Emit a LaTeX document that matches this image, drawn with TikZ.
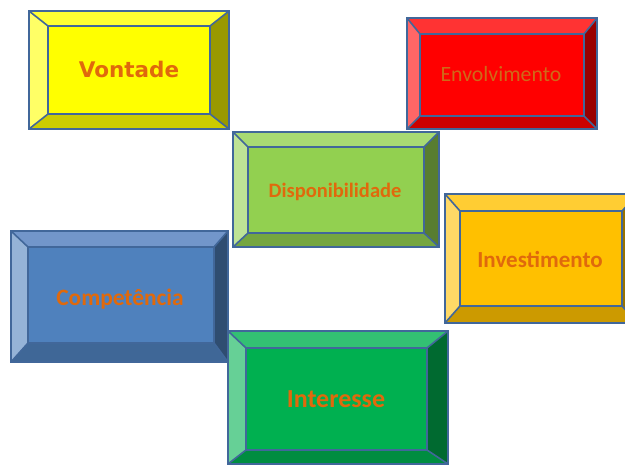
\documentclass[tikz,border=0pt]{standalone}
\usepackage{fontspec}
\newfontfamily\calb[BoldFont={Carlito Bold}]{Carlito}
\newfontfamily\verd{DejaVu Sans}
\definecolor{edge}{HTML}{41679A}
\definecolor{txt}{HTML}{E0690C}
\definecolor{txtr}{HTML}{CF6A18}
% yellow
\definecolor{yF}{HTML}{FFFF00}\definecolor{yL}{HTML}{FFFF66}\definecolor{yT}{HTML}{FFFF33}\definecolor{yB}{HTML}{CCCC00}\definecolor{yR}{HTML}{999900}
% red
\definecolor{rF}{HTML}{FF0000}\definecolor{rL}{HTML}{FF6666}\definecolor{rT}{HTML}{FF3333}\definecolor{rB}{HTML}{CC0000}\definecolor{rR}{HTML}{990000}
% light green
\definecolor{gF}{HTML}{92D050}\definecolor{gL}{HTML}{BEE396}\definecolor{gT}{HTML}{A8DA73}\definecolor{gB}{HTML}{75A640}\definecolor{gR}{HTML}{587D30}
% gold
\definecolor{oF}{HTML}{FFC000}\definecolor{oL}{HTML}{FFD966}\definecolor{oT}{HTML}{FFCD33}\definecolor{oB}{HTML}{CC9A00}\definecolor{oR}{HTML}{997300}
% blue
\definecolor{bF}{HTML}{4F81BD}\definecolor{bL}{HTML}{95B3D7}\definecolor{bT}{HTML}{7296CA}\definecolor{bB}{HTML}{3F6797}\definecolor{bR}{HTML}{2F4D71}
% green
\definecolor{nF}{HTML}{00B050}\definecolor{nL}{HTML}{66D096}\definecolor{nT}{HTML}{33C073}\definecolor{nB}{HTML}{008D40}\definecolor{nR}{HTML}{006A30}
\newcommand\bevbox[9]{%
  \fill[#1T] (#2,#3) -- (#4,#3) -- (#8,#7) -- (#6,#7) -- cycle;
  \fill[#1L] (#2,#3) -- (#6,#7) -- (#6,#9) -- (#2,#5) -- cycle;
  \fill[#1B] (#2,#5) -- (#6,#9) -- (#8,#9) -- (#4,#5) -- cycle;
  \fill[#1R] (#4,#3) -- (#4,#5) -- (#8,#9) -- (#8,#7) -- cycle;
  \fill[#1F] (#6,#7) rectangle (#8,#9);
  \draw[bevline] (#2,#3) -- (#6,#7) (#4,#3) -- (#8,#7) (#2,#5) -- (#6,#9) (#4,#5) -- (#8,#9);
  \draw[bevline] (#6,#7) rectangle (#8,#9);
  \draw[bevline] (#2,#3) rectangle (#4,#5);
}
\tikzset{
  bevline/.style={draw=edge, line width=1.6pt, line join=miter},
  label/.style={anchor=base, text=txt, inner sep=0pt},
}
\begin{document}
\begin{tikzpicture}[x=1pt,y=-1pt]
\useasboundingbox (0,0) rectangle (625,465);
\clip (0,0) rectangle (625,465);
\bevbox{y}{29}{11}{229}{129}{48}{26}{210}{114}
\node[label, font=\verd\bfseries\fontsize{21.5}{24}\selectfont] (vontade) at (129,78) {Vontade};
\bevbox{r}{407}{18}{597}{129}{420}{34}{584}{116}
\node[label, text=txtr, font=\calb\fontsize{21.8}{24}\selectfont] (envolvimento) at (501,82) {Envolvimento};
\bevbox{g}{233}{132}{439}{247}{248}{147}{424}{233}
\node[label, font=\calb\bfseries\fontsize{20.5}{24}\selectfont] (disponibilidade) at (335,198) {Disponibilidade};
\bevbox{o}{445}{194}{638}{323}{460}{211}{622}{306}
\node[label, font=\calb\bfseries\fontsize{23}{26}\selectfont] (investimento) at (540,268) {Investimento};
\bevbox{n}{228}{331}{448}{464}{246}{348}{427}{450}
\node[label, font=\calb\bfseries\fontsize{26}{28}\selectfont] (interesse) at (336,408) {Interesse};
\bevbox{b}{11}{231}{228}{362}{28}{247}{214}{343}
\node[label, font=\calb\bfseries\fontsize{23.4}{26}\selectfont] (competencia) at (120,306) {Competência};
\end{tikzpicture}
\end{document}
